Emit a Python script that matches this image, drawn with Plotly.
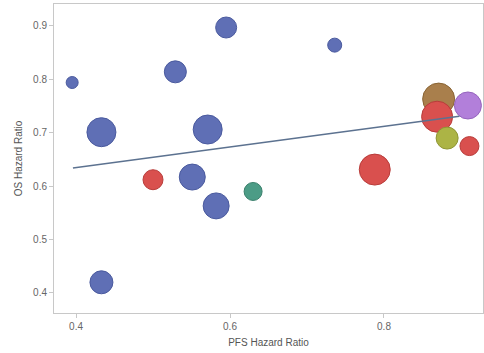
import plotly.graph_objects as go

# Data
pfs_hr = [0.395, 0.433, 0.433, 0.529, 0.595, 0.571, 0.551, 0.582, 0.736,
          0.500, 0.630, 0.788, 0.871, 0.909, 0.869, 0.882, 0.911]
os_hr = [0.794, 0.701, 0.420, 0.814, 0.897, 0.706, 0.617, 0.563, 0.864,
         0.612, 0.590, 0.631, 0.763, 0.751, 0.730, 0.690, 0.675]
weight = [12, 29, 23, 22, 21, 29, 26, 26, 14,
          20, 18, 31, 32, 27, 31, 22, 19]
group = ["A", "A", "A", "A", "A", "A", "A", "A", "A",
         "B", "C", "B", "D", "E", "B", "F", "B"]

fit_x = [0.396, 0.898]
fit_y = [0.634, 0.731]

x_ticks = [0.4, 0.6, 0.8]
y_ticks = [0.4, 0.5, 0.6, 0.7, 0.8, 0.9]

palette = {"A": "#5f6fb5", "B": "#d9504e", "C": "#4c9c86",
           "D": "#a97f4c", "E": "#b27fda", "F": "#acb445"}
edge = {"A": "#4a5a9e", "B": "#b83c3a", "C": "#3a806c",
        "D": "#8a6535", "E": "#9563bd", "F": "#8e9533"}

fig = go.Figure()
fig.add_trace(go.Scatter(
    x=pfs_hr, y=os_hr, mode="markers",
    marker=dict(size=weight, sizemode="diameter", sizeref=1,
                color=[palette[g] for g in group], opacity=1,
                line=dict(width=1, color=[edge[g] for g in group])),
    showlegend=False, hoverinfo="skip"))
fig.add_trace(go.Scatter(x=fit_x, y=fit_y, mode="lines",
                         line=dict(color="#5c7290", width=1.6),
                         showlegend=False, hoverinfo="skip"))

axis_common = dict(showgrid=False, zeroline=False, showline=True, mirror=True,
                   automargin=False,
                   linecolor="#c8c8c8", linewidth=1, ticks="outside", ticklen=4,
                   tickcolor="#c8c8c8",
                   tickfont=dict(family="Liberation Sans, Arial", size=10, color="#666"))

fig.update_layout(
    width=484, height=353,
    margin=dict(l=54, r=1, t=4, b=40),
    paper_bgcolor="white", plot_bgcolor="white",
    xaxis=dict(range=[0.3714, 0.9286], tickvals=x_ticks,
               ticktext=[str(v) for v in x_ticks],
               title=dict(text="PFS Hazard Ratio", standoff=7,
                          font=dict(family="Liberation Sans, Arial", size=10, color="#555")),
               **axis_common),
    yaxis=dict(range=[0.3625, 0.941], tickvals=y_ticks,
               ticktext=[str(v) for v in y_ticks],
               title=dict(text="OS Hazard Ratio", standoff=8,
                          font=dict(family="Liberation Sans, Arial", size=10, color="#555")),
               **axis_common),
)

fig.write_html("out.html", config={"displayModeBar": False},
               post_script="document.body.style.margin='0';document.body.style.overflow='hidden';")
